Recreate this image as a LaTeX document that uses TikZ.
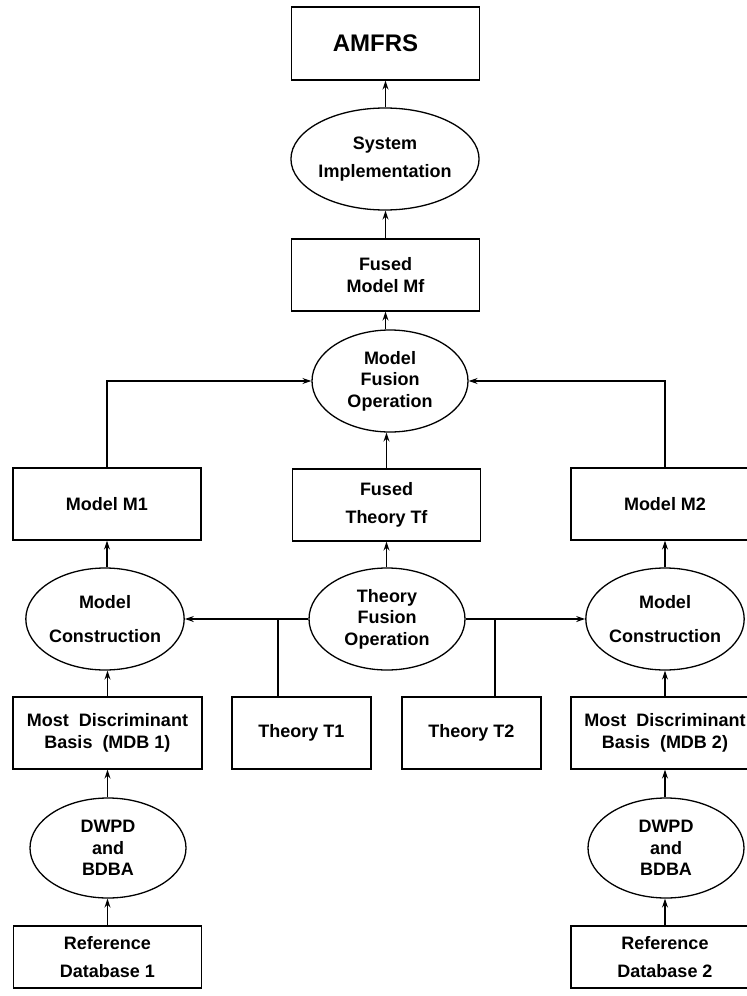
\documentclass[tikz,border=0pt]{standalone}
\usepackage{fontspec}
\setmainfont{Liberation Sans}
\usetikzlibrary{shapes.geometric,arrows.meta,calc}
\begin{document}
\begin{tikzpicture}[x=1pt,y=-1pt,
  every node/.style={font=\fontsize{18}{21.5}\selectfont\bfseries, align=center, inner sep=0pt},
  box/.style={draw, rectangle, line width=1.3pt, minimum width=188pt, minimum height=72pt},
  oval/.style={draw, ellipse, line width=1.3pt, minimum width=156pt, minimum height=102pt},
  link/.style={line width=1.3pt},
  arr/.style={link, -{Stealth[length=9pt,width=6pt]}},
]
\useasboundingbox (0,0) rectangle (747,996);
\node[box, minimum height=73pt, font=\fontsize{24}{28}\selectfont\bfseries] (amfrs) at (385.5,43.5) {AMFRS\hspace*{20pt}};
\node[oval] (si) at (385,159) {System\\[6pt]Implementation};
\node[box] (fmf) at (385.5,275) {Fused\\Model Mf};
\node[oval] (mfo) at (390,381) {Model\\Fusion\\Operation};
\node[box] (m1) at (107,504) {Model M1};
\node[box] (tf) at (386.5,505) {Fused\\[6pt]Theory Tf};
\node[box] (m2) at (665,504) {Model M2};
\node[oval] (mc1) at (105,619) {Model\\[13pt]Construction};
\node[oval] (tfo) at (387,619) {Theory\\Fusion\\Operation};
\node[oval] (mc2) at (665,619) {Model\\[13pt]Construction};
\node[box, minimum width=189pt] (mdb1) at (107.5,733) {Most\ \ Discriminant\\Basis\ \ (MDB 1)};
\node[box, minimum width=139pt] (t1) at (301.5,733) {Theory T1};
\node[box, minimum width=139pt] (t2) at (471.5,733) {Theory T2};
\node[box] (mdb2) at (665,733) {Most\ \ Discriminant\\Basis\ \ (MDB 2)};
\node[oval, minimum height=100pt] (dw1) at (108,848) {DWPD\\and\\BDBA};
\node[oval, minimum height=100pt] (dw2) at (666,848) {DWPD\\and\\BDBA};
\node[box, minimum height=62pt] (ref1) at (107.5,957) {Reference\\[7pt]Database 1};
\node[box, minimum height=62pt] (ref2) at (665,957) {Reference\\[7pt]Database 2};

\draw[arr] (amfrs.south |- si.north) -- (amfrs.south);
\draw[arr] (fmf.north) -- (fmf.north |- si.south);
\draw[arr] (fmf.south |- mfo.north) -- (fmf.south);
\draw[arr] (tf.north) -- (tf.north |- mfo.south);
\draw[arr] (m1.north) |- (mfo.west);
\draw[arr] (m2.north) |- (mfo.east);
\draw[arr] (m1.south |- mc1.north) -- (m1.south);
\draw[arr] (tf.south |- tfo.north) -- (tf.south);
\draw[arr] (m2.south |- mc2.north) -- (m2.south);
\draw[arr] (tfo.west) -- (mc1.east);
\draw[arr] (tfo.east) -- (mc2.west);
\draw[link] ([xshift=-23.5pt]t1.north) -- ([xshift=-23.5pt]t1.north |- tfo.west);
\draw[link] ([xshift=23.5pt]t2.north) -- ([xshift=23.5pt]t2.north |- tfo.east);
\draw[arr] (mdb1.north) -- (mdb1.north |- mc1.south);
\draw[arr] (mdb2.north) -- (mdb2.north |- mc2.south);
\draw[arr] (mdb1.south |- dw1.north) -- (mdb1.south);
\draw[arr] (mdb2.south |- dw2.north) -- (mdb2.south);
\draw[arr] (ref1.north) -- (ref1.north |- dw1.south);
\draw[arr] (ref2.north) -- (ref2.north |- dw2.south);
\end{tikzpicture}
\end{document}
